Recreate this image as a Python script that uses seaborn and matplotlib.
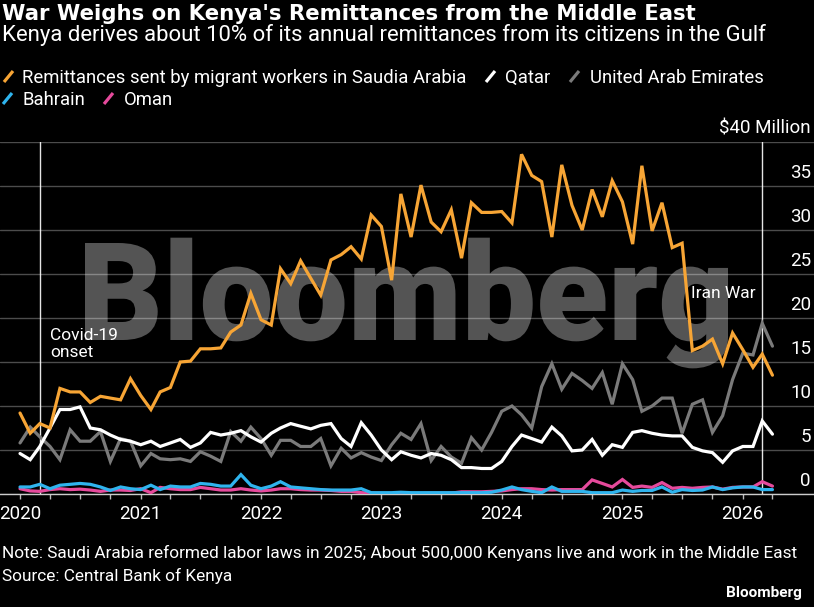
import numpy as np
import pandas as pd
import matplotlib
matplotlib.use("Agg")
import matplotlib.pyplot as plt
import seaborn as sns
from matplotlib.lines import Line2D
from matplotlib.textpath import TextPath
from matplotlib.patches import PathPatch
from matplotlib.font_manager import FontProperties
from matplotlib.transforms import Affine2D

# ---------------- data (US$ million, monthly) ----------------
months = pd.date_range("2020-01-01", periods=76, freq="MS")

saudi = [9.2, 6.9, 8.0, 7.5, 12.0, 11.6, 11.6, 10.4, 11.1, 10.9, 10.7, 13.1,
         11.2, 9.6, 11.6, 12.1, 15.0, 15.1, 16.5, 16.5, 16.6, 18.4, 19.2, 22.8,
         19.8, 19.2, 25.6, 23.9, 26.5, 24.5, 22.6, 26.6, 27.2, 28.1, 26.7, 31.7,
         30.4, 24.3, 34.1, 29.2, 35.1, 30.9, 29.8, 32.3, 26.8, 33.1, 32.0, 32.0,
         32.1, 30.8, 38.6, 36.2, 35.5, 29.2, 37.4, 32.8, 30.0, 34.6, 31.5, 35.6,
         33.2, 28.4, 37.3, 29.9, 33.1, 28.0, 28.5, 16.3, 16.8, 17.6, 14.8, 18.3,
         16.4, 14.4, 15.9, 13.5]
qatar = [4.6, 3.9, 5.4, 7.5, 9.6, 9.6, 9.9, 7.5, 7.3, 6.7, 6.2, 6.0,
         5.6, 6.0, 5.4, 5.8, 6.2, 5.3, 5.8, 7.0, 6.7, 6.9, 7.2, 6.5,
         5.9, 6.9, 7.5, 8.0, 7.7, 7.4, 7.8, 8.0, 6.3, 5.4, 8.1, 6.7,
         5.0, 3.9, 4.8, 4.4, 4.1, 4.6, 4.4, 3.9, 3.0, 3.0, 2.9, 2.9,
         3.7, 5.4, 6.7, 6.3, 5.9, 7.6, 6.6, 4.9, 5.0, 6.2, 4.4, 5.6,
         5.3, 7.0, 7.2, 6.9, 6.7, 6.6, 6.6, 5.3, 4.9, 4.7, 3.6, 4.9,
         5.4, 5.4, 8.3, 6.8]
uae = [5.8, 7.6, 6.5, 5.4, 3.9, 7.3, 6.0, 6.0, 7.1, 3.7, 6.3, 6.0,
       3.2, 4.6, 4.0, 3.9, 4.0, 3.7, 4.8, 4.3, 3.7, 7.1, 6.0, 7.6,
       6.3, 4.4, 6.1, 6.1, 5.4, 5.4, 6.3, 3.2, 5.2, 4.1, 4.7, 4.2,
       3.8, 5.6, 6.9, 6.2, 8.0, 3.8, 5.4, 4.2, 3.5, 6.4, 5.0, 7.0,
       9.4, 10.0, 9.0, 7.5, 12.2, 14.8, 11.9, 13.7, 12.9, 12.0, 13.8, 10.2,
       14.8, 13.0, 9.4, 10.0, 10.9, 10.9, 6.9, 10.2, 10.7, 7.0, 8.9, 13.0,
       16.0, 15.8, 19.4, 16.8]
bahrain = [0.8, 0.8, 1.1, 0.6, 1.0, 1.1, 1.2, 1.1, 0.8, 0.4, 0.8, 0.6,
           0.5, 1.0, 0.5, 0.9, 0.8, 0.8, 1.2, 1.1, 0.9, 0.9, 2.2, 1.0,
           0.6, 0.9, 1.4, 0.8, 0.7, 0.6, 0.5, 0.45, 0.45, 0.45, 0.6, 0.15,
           0.15, 0.15, 0.2, 0.15, 0.15, 0.15, 0.15, 0.15, 0.15, 0.15, 0.15, 0.2,
           0.45, 0.8, 0.5, 0.3, 0.15, 0.8, 0.3, 0.3, 0.3, 0.15, 0.15, 0.15,
           0.45, 0.3, 0.4, 0.4, 0.8, 0.2, 0.5, 0.4, 0.45, 0.8, 0.5, 0.7,
           0.8, 0.8, 0.5, 0.5]
oman = [0.6, 0.35, 0.3, 0.5, 0.6, 0.5, 0.55, 0.45, 0.3, 0.45, 0.45, 0.4,
        0.6, 0.15, 0.75, 0.6, 0.5, 0.5, 0.75, 0.6, 0.45, 0.45, 0.6, 0.45,
        0.35, 0.45, 0.6, 0.6, 0.5, 0.45, 0.45, 0.4, 0.3, 0.3, 0.15, 0.1,
        0.05, 0.05, 0.05, 0.05, 0.05, 0.08, 0.08, 0.1, 0.25, 0.25, 0.25, 0.3,
        0.35, 0.5, 0.6, 0.6, 0.5, 0.45, 0.5, 0.5, 0.5, 1.6, 1.2, 0.8,
        1.65, 0.75, 0.9, 0.75, 1.3, 0.65, 0.75, 0.65, 0.75, 0.8, 0.55, 0.75,
        0.8, 0.8, 1.4, 0.9]

series_names = ["Remittances sent by migrant workers in Saudia Arabia", "Qatar",
                "United Arab Emirates", "Bahrain", "Oman"]
series_values = [saudi, qatar, uae, bahrain, oman]
series_colors = ["#f7a535", "#ffffff", "#7a7a7a", "#2fb4ee", "#e64a9c"]

y_ticks = [0, 5, 10, 15, 20, 25, 30, 35, 40]
y_tick_labels = ["0", "5", "10", "15", "20", "25", "30", "35", "$40 Million"]
year_ticks = pd.date_range("2020-01-01", "2026-01-01", freq="YS")
year_labels = [str(d.year) for d in year_ticks]

events = [(pd.Timestamp("2020-03-01"), "Covid-19\nonset"),
          (pd.Timestamp("2026-03-01"), "Iran War")]

title = "War Weighs on Kenya's Remittances from the Middle East"
subtitle = "Kenya derives about 10% of its annual remittances from its citizens in the Gulf"
note = ("Note: Saudi Arabia reformed labor laws in 2025; About 500,000 Kenyans "
        "live and work in the Middle East")
source = "Source: Central Bank of Kenya"

df = pd.DataFrame({
    "month": np.tile(months, len(series_names)),
    "value": np.concatenate([np.asarray(v, float) for v in series_values]),
    "series": np.repeat(series_names, len(months)),
})

# ---------------- style ----------------
sns.set_theme(style="dark")
plt.rcParams["font.family"] = ["Roboto", "DejaVu Sans"]

W, H = 814, 607
fig = plt.figure(figsize=(W / 100, H / 100), dpi=100, facecolor="black")
ax = fig.add_axes([0, (H - 494) / H, 1, 352 / H])
ax.set_facecolor("black")

def fx(x):
    return x / W

def fy(y):
    return 1 - y / H

palette = dict(zip(series_names, series_colors))
hue_order = ["Oman", "Bahrain", "United Arab Emirates", "Qatar", series_names[0]]
sns.lineplot(data=df, x="month", y="value", hue="series", hue_order=hue_order,
             palette=palette, linewidth=2.3, legend=False, ax=ax, zorder=3,
             solid_joinstyle="miter")

t0 = pd.Timestamp("2020-01-01")
ax.set_xlim(t0 - pd.Timedelta(days=60.7), t0 + pd.Timedelta(days=2408))
ax.set_ylim(0, 40)
ax.set_xlabel("")
ax.set_ylabel("")

# gridlines
ax.set_yticks(y_ticks)
ax.tick_params(axis="y", left=False, right=False, labelleft=False, labelright=False)
ax.grid(axis="y", color="white", alpha=0.3, linewidth=1)
ax.grid(axis="x", visible=False)
ax.set_axisbelow(True)

for v, lab in zip(y_ticks, y_tick_labels):
    ax.annotate(lab, xy=(1, v), xycoords=("axes fraction", "data"),
                xytext=(-2.2, 5.8), textcoords="offset points",
                ha="right", va="baseline", color="white", fontsize=13.5,
                annotation_clip=False)

# x axis
ax.set_xticks(year_ticks)
ax.set_xticklabels(year_labels)
quarters = pd.date_range("2020-01-01", "2026-04-01", freq="QS")
ax.set_xticks(quarters, minor=True)
ax.tick_params(axis="x", which="both", direction="out", length=3.6, width=1,
               color="#bbbbbb", bottom=True, labelcolor="white",
               labelsize=13.5, pad=4)
for s in ["top", "left", "right"]:
    ax.spines[s].set_visible(False)
ax.spines["bottom"].set_color("#cccccc")
ax.spines["bottom"].set_linewidth(1)

# event lines
for d, _ in events:
    ax.axvline(d, color="white", linewidth=1, alpha=0.9, zorder=2.5)

# watermark, scaled to the reference box (x 85..728, cap 243..340)
wm_fp = FontProperties(family="Roboto", weight="black")
wm_path = TextPath((0, 0), "Bloomberg", size=100, prop=wm_fp)
cap_path = TextPath((0, 0), "B", size=100, prop=wm_fp)
ext = wm_path.get_extents()
cap_h = cap_path.get_extents().y1
sx = 643 / ext.width
sy = 97 / cap_h
tx = 85 - ext.x0 * sx
ty = H - 340
wm_tr = Affine2D().scale(sx / 100, sy / 100).translate(tx / 100, ty / 100) + fig.dpi_scale_trans
ax.add_patch(PathPatch(wm_path, transform=wm_tr, facecolor="#545454",
                       edgecolor="none", zorder=0.2, clip_on=False))

# annotations
fig.text(fx(50), fy(340), "Covid-19", color="white", fontsize=12.5,
         ha="left", va="baseline")
fig.text(fx(50), fy(357), "onset", color="white", fontsize=12.5,
         ha="left", va="baseline")
fig.text(fx(756), fy(298), events[1][1], color="white", fontsize=12.5,
         ha="right", va="baseline")

# titles
t_title = fig.text(fx(2), fy(19.5), title, color="white", fontsize=14,
                   fontweight="bold", family=["DejaVu Sans"],
                   ha="left", va="baseline")
t_sub = fig.text(fx(2), fy(40.5), subtitle, color="white", fontsize=14,
                 ha="left", va="baseline")

# legend (custom, Bloomberg style slanted strokes)
legend_items = [
    (0, 4, 83, 22),
    (1, 486, 83, 505),
    (2, 570, 83, 590),
    (3, 3, 105, 22),
    (4, 104, 105, 124),
]
leg_texts = []
for idx, x_icon, y_base, x_text in legend_items:
    fig.add_artist(Line2D([fx(x_icon), fx(x_icon + 9)], [fy(y_base - 1), fy(y_base - 12)],
                          transform=fig.transFigure, color=series_colors[idx],
                          linewidth=2.3, solid_capstyle="butt"))
    leg_texts.append(fig.text(fx(x_text), fy(y_base), series_names[idx],
                              color="white", fontsize=13.5, ha="left", va="baseline"))

# footer
t_note = fig.text(fx(2), fy(558), note, color="white", fontsize=12.5,
                  ha="left", va="baseline")
t_src = fig.text(fx(2), fy(581), source, color="white", fontsize=12.5,
                 ha="left", va="baseline")
t_logo = fig.text(fx(802), fy(597), "Bloomberg", color="white", fontsize=11.5,
                  fontweight="bold", ha="right", va="baseline")

# fit a few texts to the reference widths
renderer = fig.canvas.get_renderer()

def fit(t, target):
    w = t.get_window_extent(renderer=renderer).width
    if w > 0:
        t.set_fontsize(t.get_fontsize() * target / w)

fit(t_title, 695)
fit(t_sub, 770)
fit(leg_texts[0], 445)
leg_size = leg_texts[0].get_fontsize()
for t in leg_texts[1:]:
    t.set_fontsize(leg_size)
fit(t_note, 793)
t_src.set_fontsize(t_note.get_fontsize())
fit(t_logo, 76)

fig.savefig("out.png", dpi=100, facecolor="black")
